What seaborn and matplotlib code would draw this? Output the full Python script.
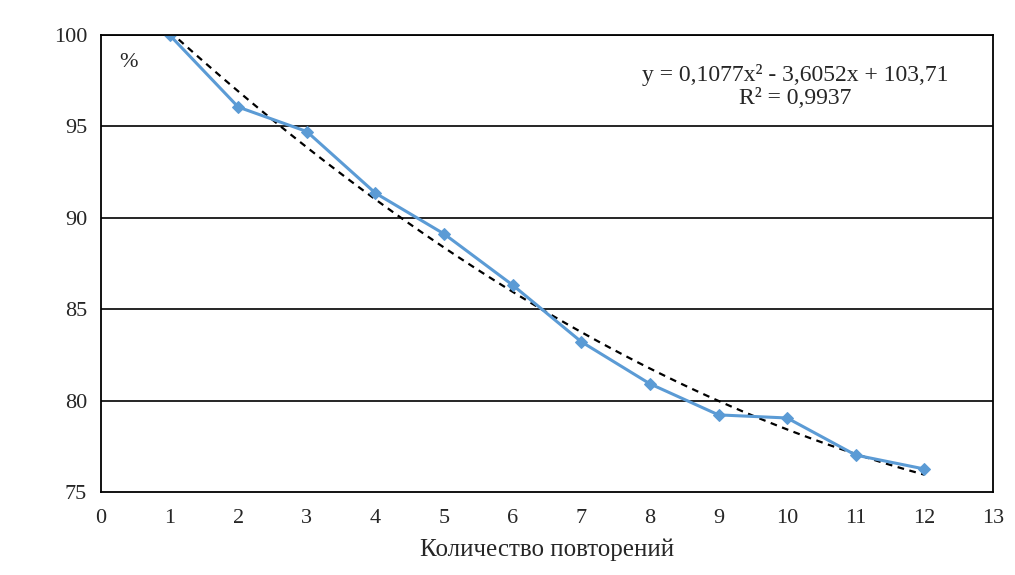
import numpy as np
import pandas as pd
import matplotlib
matplotlib.use("Agg")
import matplotlib.pyplot as plt
import seaborn as sns

# данные
repeats = [1, 2, 3, 4, 5, 6, 7, 8, 9, 10, 11, 12]
percent = [100.0, 96.06, 94.72, 91.35, 89.12, 86.32, 83.22, 80.92, 79.22, 79.05, 77.02, 76.26]
equation = "y = 0,1077x² - 3,6052x + 103,71\nR² = 0,9937"
xlabel = "Количество повторений"

df = pd.DataFrame({"x": repeats, "y": percent})

sns.set_style("white")
plt.rcParams["font.family"] = ["Liberation Serif", "DejaVu Serif"]

fig = plt.figure(figsize=(10.15, 5.75), dpi=100)
ax = fig.add_axes([0.0995, 0.1443, 0.8788, 0.7948])

# линия тренда (полином 2-й степени)
sns.regplot(data=df, x="x", y="y", order=2, ci=None, scatter=False, ax=ax,
            line_kws=dict(color="black", linestyle=(0, (3, 2.5)), linewidth=1.6))

sns.lineplot(data=df, x="x", y="y", ax=ax, color="#5B9BD5", linewidth=2.2,
             marker="D", markersize=6, markeredgecolor="#5B9BD5")

ax.set_xlim(0, 13)
ax.set_ylim(75, 100)
ax.set_xticks(range(0, 14))
ax.set_yticks(range(75, 101, 5))
for v in range(80, 101, 5):
    ax.axhline(v, color="black", linewidth=1.2, zorder=0)

for s in ax.spines.values():
    s.set_color("black")
    s.set_linewidth(1.3)
ax.tick_params(axis="both", direction="out", length=5, width=0.8, color="#888888",
               labelsize=16, pad=5)
ax.tick_params(axis="x", pad=7)

ax.set_xlabel(xlabel, fontsize=18, labelpad=8)
ax.set_ylabel("")

ax.text(0.02, 0.94, "%", transform=ax.transAxes, fontsize=16, va="center", ha="left")
ax.text(0.778, 0.888, equation, transform=ax.transAxes, fontsize=17,
        ha="center", va="center", multialignment="center", linespacing=1.15)

fig.savefig("out.png", dpi=100)
